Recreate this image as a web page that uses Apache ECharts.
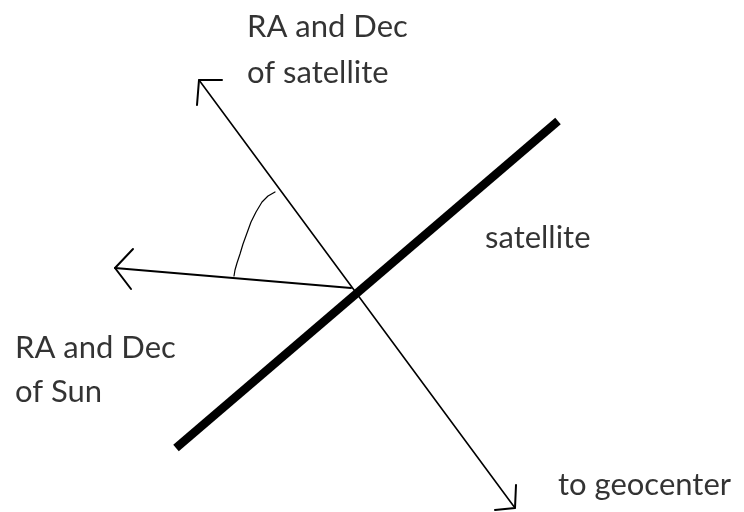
<!DOCTYPE html>
<html>
<head>
<meta charset="utf-8">
<script src="https://cdn.jsdelivr.net/npm/echarts@6/dist/echarts.min.js"></script>
<style>
    html, body { margin: 0; padding: 0; background: #fff; }
    #main { width: 744px; height: 512px; }
</style>
</head>
<body>
<div id="main"></div>
<script>
// picture space (x to the right, y downwards)
var satDirection = [[199, 80], [515, 508]];
var satArrowTop = [[222, 80], [199, 80], [197, 105]];
var satArrowBottom = [[516, 485], [515, 508], [495, 510]];
var sunDirection = [[115, 268], [351, 288]];
var sunArrow = [[133, 249], [115, 268], [131, 289]];
var panel = [[176, 448], [558, 121]];
var angleArc = [[275, 192], [268, 196], [262, 202], [256, 212], [251, 222], [247, 233], [243, 244], [240, 254], [237, 263], [235, 270], [234, 276]];

// text lines: x, y (middle of line), text
var labels = [
    [247, 27, 'RA and Dec'],
    [247, 73, 'of satellite'],
    [15, 348, 'RA and Dec'],
    [15, 392, 'of Sun'],
    [485, 238, 'satellite'],
    [558, 485, 'to geocenter']
];

var myChart = echarts.init(document.getElementById('main'));

function seg(name, data, width, cap) {
    return {
        name: name,
        type: 'line',
        data: data,
        symbol: 'none',
        silent: true,
        animation: false,
        lineStyle: {color: '#000', width: width, cap: cap || 'round', join: 'round'}
    };
}

var option = {
    backgroundColor: '#fff',
    animation: false,
    grid: {left: 0, right: 0, top: 0, bottom: 0},
    xAxis: {type: 'value', min: 0, max: 744, show: false},
    yAxis: {type: 'value', min: 0, max: 512, inverse: true, show: false},
    series: [
        seg('sat', satDirection, 1.6),
        seg('satArrowTop', satArrowTop, 2),
        seg('satArrowBottom', satArrowBottom, 2),
        seg('sun', sunDirection, 2),
        seg('sunArrow', sunArrow, 2),
        seg('panel', panel, 8.5, 'butt'),
        seg('arc', angleArc, 1.2),
        {
            type: 'scatter',
            data: labels,
            symbolSize: 0,
            silent: true,
            label: {
                show: true,
                position: [0, 0],
                align: 'left',
                verticalAlign: 'middle',
                color: '#000',
                fontFamily: 'Lato',
                fontSize: 31,
                formatter: function (p) {
                    return p.value[2];
                }
            }
        }
    ]
};

myChart.setOption(option);
</script>
</body>
</html>
